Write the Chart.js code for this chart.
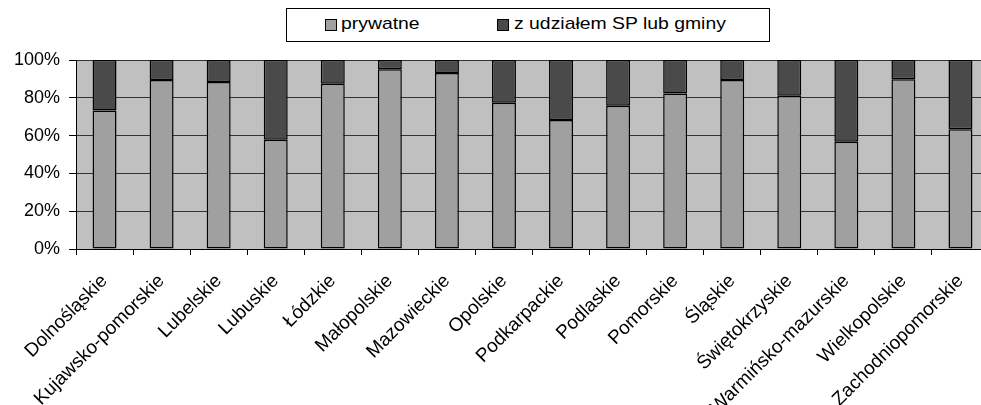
<!DOCTYPE html>
<html>
<head>
<meta charset="utf-8">
<script src="https://cdn.jsdelivr.net/npm/chart.js@4.4.1/dist/chart.umd.min.js"></script>
<style>
  html, body { margin: 0; padding: 0; background: #fff; overflow: hidden; }
  #wrap { position: relative; width: 981px; height: 405px; overflow: hidden; }
  #myChart { position: absolute; left: 0; top: 0; }
  #legend {
    position: absolute; left: 286px; top: 8px; width: 482px; height: 32px;
    border: 1px solid #000; background: #fff;
    font: 17px "Liberation Sans", Arial, sans-serif; color: #000;
  }
  #legend .sw { position: absolute; top: 10px; width: 10px; height: 10px; border: 1px solid #000; }
  #legend .tx { position: absolute; top: 5px; white-space: nowrap; transform: scaleX(1.14); transform-origin: 0 50%; }
</style>
</head>
<body>
<div id="wrap">
  <canvas id="myChart" width="995" height="405"></canvas>
  <div id="legend">
    <span class="sw" style="left:38px;background:#a0a0a0"></span>
    <span class="tx" style="left:54px">prywatne</span>
    <span class="sw" style="left:210px;background:#4a4a4a"></span>
    <span class="tx" style="left:227px">z udziałem SP lub gminy</span>
  </div>
</div>
<script>
// dane
const regions = ['Dolnośląskie', 'Kujawsko-pomorskie', 'Lubelskie', 'Lubuskie', 'Łódzkie', 'Małopolskie',
    'Mazowieckie', 'Opolskie', 'Podkarpackie', 'Podlaskie', 'Pomorskie', 'Śląskie', 'Świętokrzyskie',
    'Warmińsko-mazurskie', 'Wielkopolskie', 'Zachodniopomorskie'];
const prywatne = [73.3, 89.4, 88.3, 57.8, 87.4, 95.1, 93.1, 77.4, 68.2, 75.8, 82.3, 89.4, 81.1, 56.7, 89.8, 63.4];
const publiczne = [26.7, 10.6, 11.7, 42.2, 12.6, 4.9, 6.9, 22.6, 31.8, 24.2, 17.7, 10.6, 18.9, 43.3, 10.2, 36.6];
const yTicks = [0, 20, 40, 60, 80, 100];

const font = { family: '"Liberation Sans", Arial, sans-serif', size: 18 };
const xFont = { family: '"Liberation Sans", Arial, sans-serif', size: 19 };

// szare tło obszaru wykresu
const plotBg = {
    id: 'plotBg',
    beforeDraw(chart) {
        const a = chart.chartArea, c = chart.ctx;
        c.save();
        c.fillStyle = '#c0c0c0';
        c.fillRect(a.left, a.top, a.right - a.left, a.bottom - a.top);
        c.restore();
    }
};

const ctx = document.getElementById('myChart');

new Chart(ctx, {
    type: 'bar',
    data: {
        labels: regions,
        datasets: [{
            label: 'prywatne',
            data: prywatne,
            backgroundColor: '#a0a0a0',
            borderColor: '#000',
            borderWidth: 1.5,
            borderSkipped: false
        }, {
            label: 'z udziałem SP lub gminy',
            data: publiczne,
            backgroundColor: '#4a4a4a',
            borderColor: '#000',
            borderWidth: 1.5,
            borderSkipped: false
        }]
    },
    options: {
        responsive: false,
        animation: false,
        categoryPercentage: 1,
        barPercentage: 0.42,
        layout: { padding: { left: 0, right: 6, top: 60, bottom: 0 } },
        plugins: {
            legend: { display: false },
            tooltip: { enabled: false }
        },
        scales: {
            x: {
                stacked: true,
                afterFit(s) { s.height = 156; },
                grid: { drawOnChartArea: false, drawTicks: true, tickLength: 6, color: '#000', offset: true },
                border: { color: '#000', width: 1 },
                ticks: { color: '#000', font: xFont, minRotation: 45, maxRotation: 45, autoSkip: false, padding: 15 }
            },
            y: {
                stacked: true,
                min: 0,
                max: 100,
                afterFit(s) { s.width = 76; },
                afterBuildTicks(s) { s.ticks = yTicks.map(v => ({ value: v })); },
                grid: { color: '#333', lineWidth: 1, tickLength: 7, tickColor: '#000' },
                border: { color: '#000', width: 1 },
                ticks: { color: '#000', font: font, padding: 9, callback: v => v + '%' }
            }
        }
    },
    plugins: [plotBg]
});
</script>
</body>
</html>
